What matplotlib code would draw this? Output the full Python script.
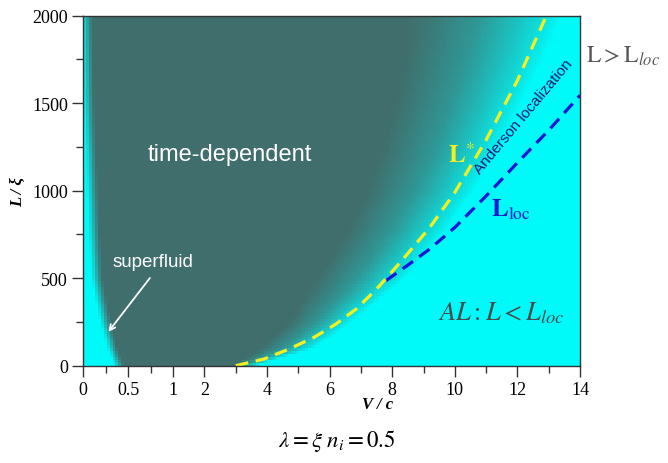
import numpy as np
import matplotlib
matplotlib.use("Agg")
import matplotlib.pyplot as plt
from matplotlib.colors import LinearSegmentedColormap

plt.rcParams['mathtext.fontset'] = 'stix'
plt.rcParams['font.family'] = 'Liberation Serif'

### phase boundaries (V/c where colour changes, per L/xi row)
L_rows    = [0, 100, 250, 500, 750, 1000, 1250, 1500, 1750, 2000]
sf_edge   = [0.40, 0.32, 0.24, 0.15, 0.12, 0.10, 0.08, 0.06, 0.05, 0.04]
dark_edge = [2.9, 3.8, 4.7, 5.6, 6.5, 7.2, 7.7, 8.1, 8.4, 8.6]
cyan_edge = [3.6, 5.5, 6.7, 8.4, 9.6, 10.6, 11.4, 12.1, 12.8, 13.4]

### dashed curves
lstar_v = [3.0, 3.9, 4.7, 5.5, 6.2, 6.85, 7.5, 8.35, 9.2, 10.0, 11.0, 12.0, 12.9, 13.0]
lstar_l = [0, 38, 95, 162, 238, 324, 438, 610, 790, 990, 1290, 1630, 1990, 2030]
lloc_v = [7.8, 8.5, 9.2, 10.0, 11.0, 12.0, 13.0, 14.0]
lloc_l = [486, 575, 667, 790, 970, 1160, 1345, 1545]

xticks = [0, 0.5, 1, 2, 4, 6, 8, 10, 12, 14]
xtick_labels = ["0", "0.5", "1", "2", "4", "6", "8", "10", "12", "14"]
xminor = [0.25, 0.75, 3, 5, 7, 9, 11, 13]

# x axis is stretched below V/c = 1
K = 2.873
def fwd(v):
    v = np.asarray(v, dtype=float)
    return np.where(v < 1, v * K, K + (v - 1))

def inv(u):
    u = np.asarray(u, dtype=float)
    return np.where(u < K, u / K, u - K + 1)


fig = plt.figure(figsize=(6.68, 4.64), dpi=100)
ax = fig.add_axes([83.3 / 668, 1 - 366.7 / 464, 496.7 / 668, 350 / 464])
ax.set_xscale('function', functions=(fwd, inv))

# background map
u_edges = np.linspace(0, float(fwd(14)), 171)
v_edges = inv(u_edges)
l_edges = np.linspace(0, 2000, 121)
vc = 0.5 * (v_edges[1:] + v_edges[:-1])
lc = 0.5 * (l_edges[1:] + l_edges[:-1])
VV, LL = np.meshgrid(vc, lc)
sf = np.interp(LL, L_rows, sf_edge)
de = np.interp(LL, L_rows, dark_edge)
ce = np.interp(LL, L_rows, cyan_edge)
left = np.clip((VV - sf) / 0.12 + 0.5, 0, 1)
right = np.clip((VV - de) / (ce - de), 0, 1)
dark = left * (1 - right) ** 0.75

cmap = LinearSegmentedColormap.from_list(
    'bg', [(0, '#00fafa'), (0.3, '#14d0ce'), (0.65, '#2f9694'), (1, '#406e6c')])
ax.pcolormesh(v_edges, l_edges, dark, cmap=cmap, vmin=0, vmax=1, shading='flat')

ax.plot(lloc_v, lloc_l, color='#1616d8', lw=2.3, dashes=(4, 2.4))
ax.plot(lstar_v, lstar_l, color='#f2f020', lw=2.3, dashes=(4, 2.4))

ax.set_xlim(0, 14)
ax.set_ylim(0, 2000)
ax.set_xticks(xticks)
ax.set_xticklabels(xtick_labels)
ax.set_xticks(xminor, minor=True)
ax.set_yticks(np.arange(0, 2001, 500))
ax.set_yticks(np.arange(0, 2001, 250), minor=True)
ax.tick_params(which='major', direction='out', length=8, width=1, color='#333333',
               labelsize=13, pad=3)
ax.tick_params(which='minor', direction='out', length=5, width=1, color='#333333')
for s in ax.spines.values():
    s.set_color('#333333')
    s.set_linewidth(1)

ax.text(0.593, -0.109, "V / c", transform=ax.transAxes, ha='center', va='center',
        fontsize=12, fontweight='bold', fontstyle='italic')
ax.text(-0.131, 0.5, "L / ξ", transform=ax.transAxes, ha='center', va='center',
        rotation=90, fontsize=12, fontweight='bold', fontstyle='italic')

# labels on the map
ax.text(2.81, 1210, "time-dependent", color='white', fontsize=17,
        family='Liberation Sans', ha='center', va='center')
ax.text(0.77, 593, "superfluid", color='white', fontsize=13.5,
        family='Liberation Sans', ha='center', va='center')
ax.annotate("", xy=(0.26, 181), xytext=(0.76, 514),
            arrowprops=dict(arrowstyle='->', color='white', lw=1.3))
ax.text(12.19, 1427, "Anderson localization", color='#1c1c78', fontsize=11,
        family='Liberation Sans', rotation=50, ha='center', va='center',
        rotation_mode='anchor')
ax.text(9.77, 1164, r'$\mathbf{L}^{*}$', color='#f2f020', fontsize=18,
        ha='left', va='baseline')
ax.text(11.17, 855, r'$\mathbf{L}_{\mathrm{loc}}$', color='#1a1acc', fontsize=18,
        ha='left', va='baseline')
ax.text(9.45, 267, r'$AL : L < L_{loc}$', color='#4a4a4a', fontsize=19,
        ha='left', va='baseline')

fig.text(586 / 668, 1 - 63 / 464, r'$\mathrm{L} > \mathrm{L}_{loc}$', color='#555555',
         fontsize=17, ha='left', va='baseline')
fig.text(0.504, 1 - 446.7 / 464, r'$\lambda = \xi\ n_i = 0.5$', color='black',
         fontsize=16.5, ha='center', va='baseline')

fig.savefig("out.png", dpi=100)
